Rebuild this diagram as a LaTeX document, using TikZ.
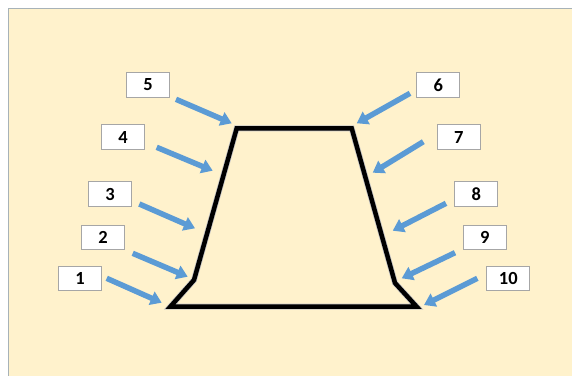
\documentclass[tikz,border=0pt]{standalone}
\usepackage{fontspec}
\setmainfont{Carlito}
\usetikzlibrary{arrows.meta}
\definecolor{panel}{HTML}{FFF2CC}
\definecolor{panelborder}{HTML}{A7B2B8}
\definecolor{arrowblue}{HTML}{5B9BD5}
\definecolor{arrowedge}{HTML}{4A86C0}
\definecolor{boxborder}{HTML}{A6A6A6}
\tikzset{
  numbox/.style={draw=boxborder, line width=0.8pt, fill=white, minimum width=43pt, minimum height=24.5pt, inner sep=0pt, font=\fontsize{18.5}{18.5}\selectfont\bfseries},
  pointer/.style={draw=arrowblue, line width=5.5pt, -{Triangle[width=14pt,length=11pt]}, arrowblue},
  outline/.style={line width=4.5pt, line join=miter, black}
}
\begin{document}
\begin{tikzpicture}[x=1pt,y=-1pt]
\useasboundingbox (0,0) rectangle (572,375);
\fill[white] (0,0) rectangle (572,375);
\draw[panelborder, fill=panel, line width=0.8pt] (8.5,8.5) rectangle (580,380);
% boxes
\node[numbox] (b5) at (148,85) {5};
\node[numbox] (b4) at (123,137) {4};
\node[numbox] (b3) at (110,194) {3};
\node[numbox] (b2) at (103,237.5) {2};
\node[numbox] (b1) at (80,278.3) {1};
\node[numbox] (b6) at (438.3,85) {6};
\node[numbox] (b7) at (458.8,137) {7};
\node[numbox] (b8) at (476.3,194) {8};
\node[numbox] (b9) at (484.8,237.5) {9};
\node[numbox] (b10) at (508.3,278.3) {10};
% outline corners
\coordinate (tl) at (236.7,128.3);
\coordinate (tr) at (351.7,128.3);
\coordinate (rk) at (395,283);
\coordinate (br) at (416.5,306.5);
\coordinate (bl) at (170.5,306.5);
\coordinate (lk) at (194,280);
% arrow tails and tips
\coordinate (t5) at (176,99.3);   \coordinate (h5) at (231.7,123.3);
\coordinate (t4) at (156.7,147.3); \coordinate (h4) at (212.7,170.7);
\coordinate (t3) at (139.3,204);   \coordinate (h3) at (195,228.3);
\coordinate (t2) at (132.7,253.3); \coordinate (h2) at (187.7,276.7);
\coordinate (t1) at (106.7,278.3); \coordinate (h1) at (161.7,302.7);
\coordinate (t6) at (410,93.3);    \coordinate (h6) at (356.7,123.3);
\coordinate (t7) at (423.3,141.7); \coordinate (h7) at (372.7,172.7);
\coordinate (t8) at (446,203.3);   \coordinate (h8) at (392.7,230.7);
\coordinate (t9) at (455,252.7);   \coordinate (h9) at (401.7,278.3);
\coordinate (t10) at (477.3,278.3); \coordinate (h10) at (424,305);
% shadow + outline
\draw[line width=6pt, black!22, line join=miter, xshift=1.5pt, yshift=-1.5pt] (tl) -- (tr) -- (rk) -- (br) -- (bl) -- (lk) -- cycle;
\draw[outline] (tl) -- (tr) -- (rk) -- (br) -- (bl) -- (lk) -- cycle;
\foreach \i in {1,...,10} {
  \draw[pointer] (t\i) -- (h\i);
}
\end{tikzpicture}
\end{document}
